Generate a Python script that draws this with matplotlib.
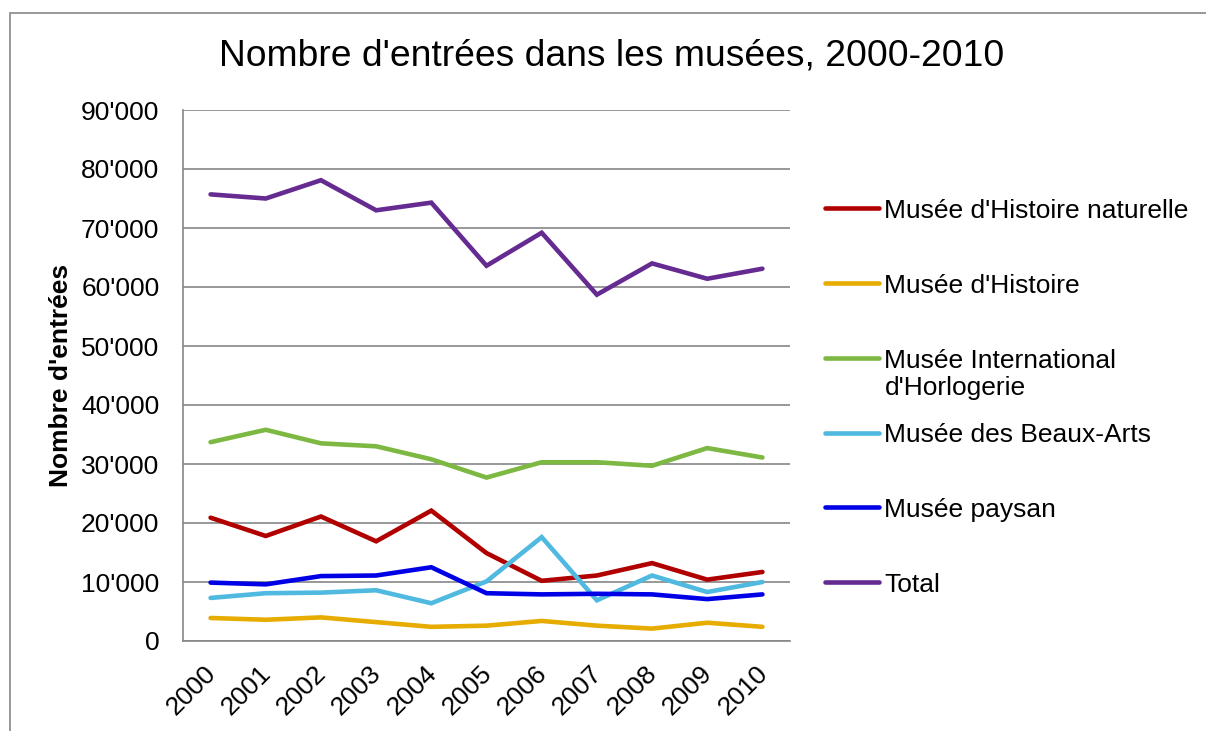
import matplotlib
matplotlib.use("Agg")
import matplotlib.pyplot as plt
from matplotlib.patches import Rectangle
from matplotlib.ticker import FuncFormatter
from matplotlib.transforms import ScaledTranslation

years = ["2000", "2001", "2002", "2003", "2004", "2005", "2006", "2007", "2008", "2009", "2010"]
histoire_naturelle = [20900, 17800, 21100, 16900, 22100, 14900, 10200, 11100, 13200, 10400, 11700]
histoire = [3900, 3600, 4000, 3200, 2400, 2600, 3400, 2600, 2100, 3100, 2400]
horlogerie = [33700, 35800, 33500, 33000, 30800, 27700, 30300, 30300, 29700, 32700, 31100]
beaux_arts = [7300, 8100, 8200, 8600, 6400, 10100, 17600, 6900, 11100, 8300, 10000]
paysan = [9900, 9600, 11000, 11100, 12500, 8100, 7900, 8000, 7900, 7100, 7900]
total = [75700, 75000, 78100, 73000, 74300, 63600, 69200, 58700, 64000, 61400, 63100]

series_labels = ["Musée d'Histoire naturelle", "Musée d'Histoire",
                 "Musée International\nd'Horlogerie", "Musée des Beaux-Arts",
                 "Musée paysan", "Total"]
series_values = [histoire_naturelle, histoire, horlogerie, beaux_arts, paysan, total]
series_colors = ["#B00000", "#E6AC00", "#7DB843", "#4FB9E0", "#0000E6", "#652B91"]

plt.rcParams['font.family'] = ['Liberation Sans', 'DejaVu Sans']

fig = plt.figure(figsize=(12.06, 7.31), dpi=100)
ax = fig.add_axes([183/1206, 1-641/731, (790-183)/1206, (641-110)/731])

x = list(range(len(years)))
handles = []
for vals, lab, col in zip(series_values, series_labels, series_colors):
    h, = ax.plot(x, vals, color=col, lw=3.3, solid_capstyle='round', solid_joinstyle='miter', label=lab)
    handles.append(h)

ax.set_xlim(-0.5, len(years) - 0.5)
ax.set_ylim(0, 90000)
ax.set_yticks(range(0, 90001, 10000))
ax.yaxis.set_major_formatter(FuncFormatter(lambda v, p: f"{int(v):,}".replace(",", "'")))
ax.set_xticks(x)
ax.set_xticklabels(years, rotation=45, ha='right', rotation_mode='anchor')
ax.tick_params(axis='both', length=0, labelsize=19)
ax.tick_params(axis='y', pad=17)
ax.tick_params(axis='x', pad=14.5)
shift = ScaledTranslation(-7/100, 0, fig.dpi_scale_trans)
for lbl in ax.get_xticklabels():
    lbl.set_transform(lbl.get_transform() + shift)
ax.grid(axis='y', color='#868686', lw=1.2)
ax.set_axisbelow(True)
for s in ['top', 'right']:
    ax.spines[s].set_visible(False)
for s in ['left', 'bottom']:
    ax.spines[s].set_color('#868686')
    ax.spines[s].set_linewidth(1.2)

ax.set_ylabel("Nombre d'entrées", fontsize=19, fontweight='bold', labelpad=5.5)
fig.text(612/1206, 1-56/731, "Nombre d'entrées dans les musées, 2000-2010", fontsize=26.8,
         ha='center', va='center')

leg_labels = [l if "\n" in l else l + "\n " for l in series_labels]
leg = fig.legend(handles, leg_labels, loc='upper left', bbox_to_anchor=(825/1206, 1-199/731),
                 frameon=False, fontsize=19, handlelength=2.05, handletextpad=0.2,
                 labelspacing=0.87, borderpad=0, borderaxespad=0)
for col in leg._legend_handle_box.get_children():
    for hp in col.get_children():
        hp.align = "top"

fig.patches.append(Rectangle((10/1206, -0.05), 1.2, 1 - 13/731 + 0.05, transform=fig.transFigure,
                             fill=False, edgecolor='#868686', lw=1.2))

fig.savefig("out.png", dpi=100)
